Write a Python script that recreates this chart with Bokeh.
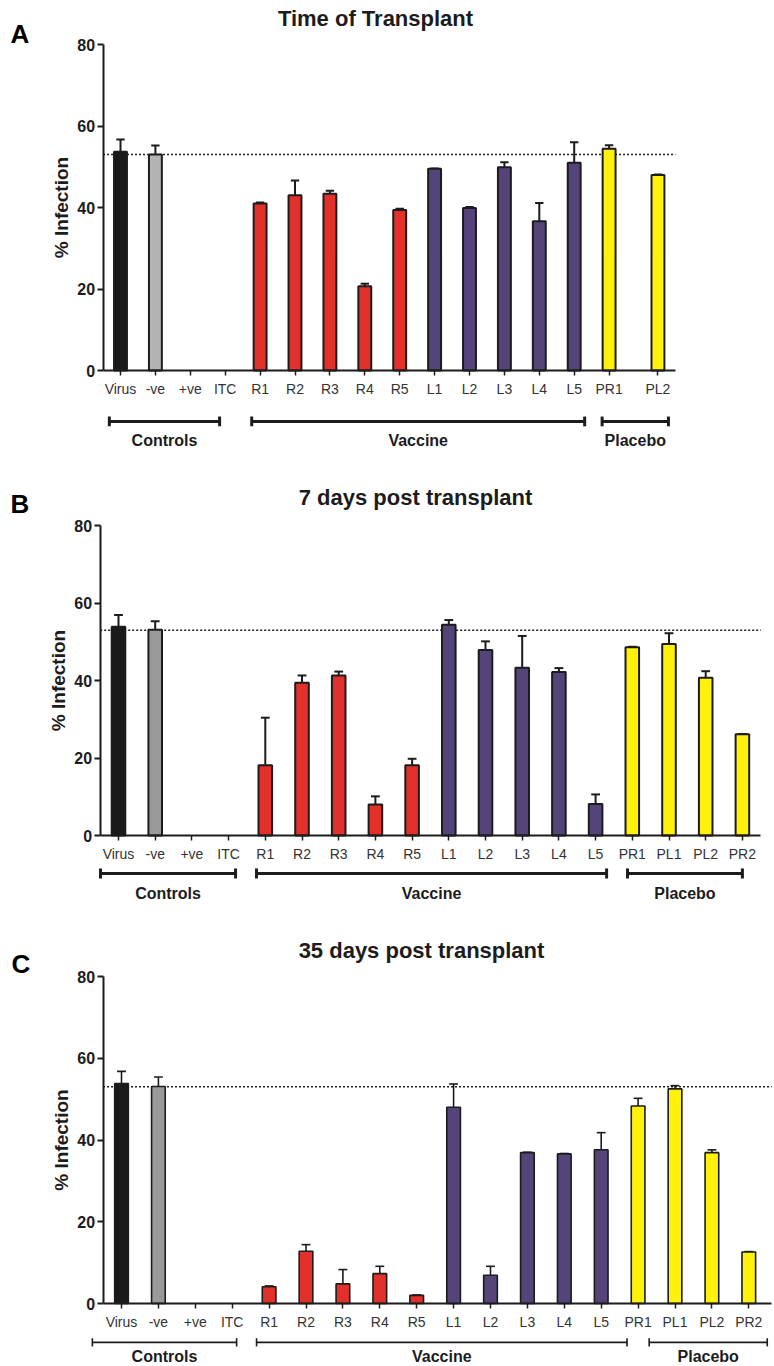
from bokeh.plotting import figure
from bokeh.models import LinearAxis, FixedTicker, Range1d, Label, ColumnDataSource
from bokeh.layouts import column
from bokeh.embed import file_html
from bokeh.resources import INLINE

# ---------------- data ----------------
a_labels = ["Virus", "-ve", "+ve", "ITC", "R1", "R2", "R3", "R4", "R5",
            "L1", "L2", "L3", "L4", "L5", "PR1", "PL2"]
a_slots = [0, 1, 2, 3, 4, 5, 6, 7, 8, 9, 10, 11, 12, 13, 14, 15.4]
a_mean = [53.7, 53.0, 0, 0, 41.0, 43.0, 43.4, 20.7, 39.4,
          49.5, 39.9, 49.9, 36.6, 51.0, 54.4, 48.0]
a_sem = [3.0, 2.2, 0, 0, 0.2, 3.6, 0.7, 0.6, 0.3,
         0.1, 0.2, 1.2, 4.5, 5.0, 0.9, 0.1]

b_labels = ["Virus", "-ve", "+ve", "ITC", "R1", "R2", "R3", "R4", "R5",
            "L1", "L2", "L3", "L4", "L5", "PR1", "PL1", "PL2", "PR2"]
b_slots = list(range(18))
b_mean = [53.9, 53.1, 0, 0, 18.1, 39.4, 41.3, 8.0, 18.1,
          54.4, 47.9, 43.3, 42.2, 8.1, 48.6, 49.4, 40.7, 26.1]
b_sem = [3.0, 2.2, 0, 0, 12.3, 1.9, 1.0, 2.1, 1.7,
         1.2, 2.2, 8.2, 1.0, 2.5, 0.1, 2.8, 1.7, 0.1]

c_labels = ["Virus", "-ve", "+ve", "ITC", "R1", "R2", "R3", "R4", "R5",
            "L1", "L2", "L3", "L4", "L5", "PR1", "PL1", "PL2", "PR2"]
c_slots = list(range(18))
c_mean = [53.8, 53.1, 0, 0, 4.1, 12.8, 4.8, 7.3, 2.0,
          48.0, 6.9, 36.9, 36.6, 37.6, 48.3, 52.5, 36.9, 12.6]
c_sem = [3.0, 2.3, 0, 0, 0.2, 1.6, 3.5, 1.8, 0.1,
         5.7, 2.2, 0.1, 0.1, 4.2, 1.9, 0.8, 0.7, 0.1]

reference_level = 53.0
y_ticks = [0, 20, 40, 60, 80]
groups = ["Controls", "Vaccine", "Placebo"]

# ---------------- style / layout ----------------
FONT = "Liberation Sans"
INK = "#1c1c1c"
W = 774
COLORS = {"Virus": "#1a1a1a", "R": "#e2302a", "L": "#54447a", "P": "#fff10c"}


def color_for(label, neg_gray):
    if label == "Virus":
        return COLORS["Virus"]
    if label == "-ve":
        return neg_gray
    return COLORS[label[0]] if label[0] in COLORS else "#ffffff"


panels = [
    dict(letter="A", title="Time of Transplant", labels=a_labels, slots=a_slots,
         mean=a_mean, sem=a_sem, neg_gray="#b3b3b3",
         top=0, h=455, virus_px=120, step=34.9, zero_px=370, unit=4.075,
         axis_end=15.9, spans=[(-0.32, 2.84), (3.76, 13.3), (13.8, 15.7)],
         br_y=-12.5, br_tick=1.2, br_w=3, grp_y=-17.2,
         title_xy=(375, 18), letter_xy=(10, 33)),
    dict(letter="B", title="7 days post transplant", labels=b_labels, slots=b_slots,
         mean=b_mean, sem=b_sem, neg_gray="#9a9a9a",
         top=455, h=455, virus_px=118, step=36.7, zero_px=835, unit=3.875,
         axis_end=17.5, spans=[(-0.49, 3.19), (3.76, 13.3), (13.87, 17.0)],
         br_y=-9.8, br_tick=1.3, br_w=3, grp_y=-15.0,
         title_xy=(415, 497), letter_xy=(10, 503)),
    dict(letter="C", title="35 days post transplant", labels=c_labels, slots=c_slots,
         mean=c_mean, sem=c_sem, neg_gray="#9a9a9a",
         top=910, h=456, virus_px=121, step=36.9, zero_px=1303, unit=4.0875,
         axis_end=17.62, spans=[(-0.79, 3.12), (3.66, 13.7), (14.3, 17.5)],
         br_y=-9.5, br_tick=1.0, br_w=1.6, grp_y=-12.9,
         title_xy=(421, 950), letter_xy=(11, 963)),
]


def build(cfg):
    x0 = (0 - cfg["virus_px"]) / cfg["step"]
    x1 = x0 + W / cfg["step"]
    y1 = (cfg["zero_px"] - cfg["top"]) / cfg["unit"]
    y0 = y1 - cfg["h"] / cfg["unit"]

    def dx(px):
        return x0 + px / cfg["step"]

    def dy(py):
        return (cfg["zero_px"] - py) / cfg["unit"]

    p = figure(width=W, height=cfg["h"], x_range=Range1d(x0, x1),
               y_range=Range1d(y0, y1), output_backend="svg",
               toolbar_location=None, x_axis_type=None, y_axis_type=None,
               min_border=0, outline_line_color=None)

    # reference (negative-control) dotted line
    p.segment(x0=[-0.5], y0=[reference_level], x1=[cfg["axis_end"]],
              y1=[reference_level], line_color=INK, line_width=1.5,
              line_dash="2 2")

    xs, tops, cols, exs, etops = [], [], [], [], []
    for s, lab, m, e in zip(cfg["slots"], cfg["labels"], cfg["mean"], cfg["sem"]):
        if m > 0:
            xs.append(s)
            tops.append(m)
            cols.append(color_for(lab, cfg["neg_gray"]))
            if e > 0:
                exs.append(s)
                etops.append(m + e)
    src = ColumnDataSource(dict(x=xs, top=tops, color=cols))
    lw = 2 if cfg["letter"] != "C" else 1.6
    # error bars (upper only)
    ebase = [tops[xs.index(x)] for x in exs]
    p.segment(x0=exs, y0=ebase, x1=exs, y1=etops, line_color=INK, line_width=lw)
    p.segment(x0=[x - 0.12 for x in exs], y0=etops, x1=[x + 0.12 for x in exs],
              y1=etops, line_color=INK, line_width=lw)
    p.vbar(x="x", top="top", bottom=0, width=0.37, fill_color="color",
           line_color=INK, line_width=lw, source=src)

    # axes
    yax = LinearAxis(fixed_location=-0.5, bounds=(0, 80),
                     ticker=FixedTicker(ticks=y_ticks), axis_label="% Infection")
    yax.axis_line_width = 2
    yax.axis_line_color = INK
    yax.major_tick_line_width = 2
    yax.major_tick_line_color = INK
    yax.major_tick_out = 6
    yax.major_tick_in = 0
    yax.major_label_text_font = FONT
    yax.major_label_text_font_size = "16px"
    yax.major_label_text_font_style = "bold"
    yax.major_label_text_color = INK
    yax.major_label_standoff = 2
    yax.axis_label_text_font = FONT
    yax.axis_label_text_font_size = "19px"
    yax.axis_label_text_font_style = "bold"
    yax.axis_label_text_color = INK
    yax.axis_label_standoff = 3
    p.add_layout(yax, "left")

    xax = LinearAxis(fixed_location=0, bounds=(-0.5, cfg["axis_end"]),
                     ticker=FixedTicker(ticks=cfg["slots"]),
                     major_label_overrides={s: l for s, l in zip(cfg["slots"], cfg["labels"])})
    xax.axis_line_width = 2
    xax.axis_line_color = INK
    xax.major_tick_line_width = 1.5
    xax.major_tick_line_color = INK
    xax.major_tick_out = 5
    xax.major_tick_in = 0
    xax.major_label_text_font = FONT
    xax.major_label_text_font_size = "14px"
    xax.major_label_text_color = "#333333"
    xax.major_label_standoff = 5
    p.add_layout(xax, "below")

    # group brackets
    by, bt = cfg["br_y"], cfg["br_tick"]
    for g, (s0, s1) in zip(groups, cfg["spans"]):
        p.segment(x0=[s0], y0=[by], x1=[s1], y1=[by], line_color=INK,
                  line_width=cfg["br_w"])
        p.segment(x0=[s0, s1], y0=[by - bt, by - bt], x1=[s0, s1],
                  y1=[by + bt, by + bt], line_color=INK, line_width=cfg["br_w"])
        p.add_layout(Label(x=(s0 + s1) / 2, y=cfg["grp_y"], text=g,
                           text_align="center", text_baseline="middle",
                           text_font=FONT, text_font_size="16px",
                           text_font_style="bold", text_color=INK))

    tx, ty = cfg["title_xy"]
    p.add_layout(Label(x=dx(tx), y=dy(ty), text=cfg["title"], text_align="center",
                       text_baseline="alphabetic", text_font=FONT,
                       text_font_size="22px", text_font_style="bold",
                       text_color=INK))
    lx, ly = cfg["letter_xy"]
    p.add_layout(Label(x=dx(lx), y=dy(ly), text=cfg["letter"], text_align="left",
                       text_baseline="alphabetic", text_font=FONT,
                       text_font_size="26px", text_font_style="bold",
                       text_color="#000000"))
    return p


figs = [build(c) for c in panels]
layout = column(*figs, spacing=0)
open("out.html", "w").write(file_html(layout, INLINE))
